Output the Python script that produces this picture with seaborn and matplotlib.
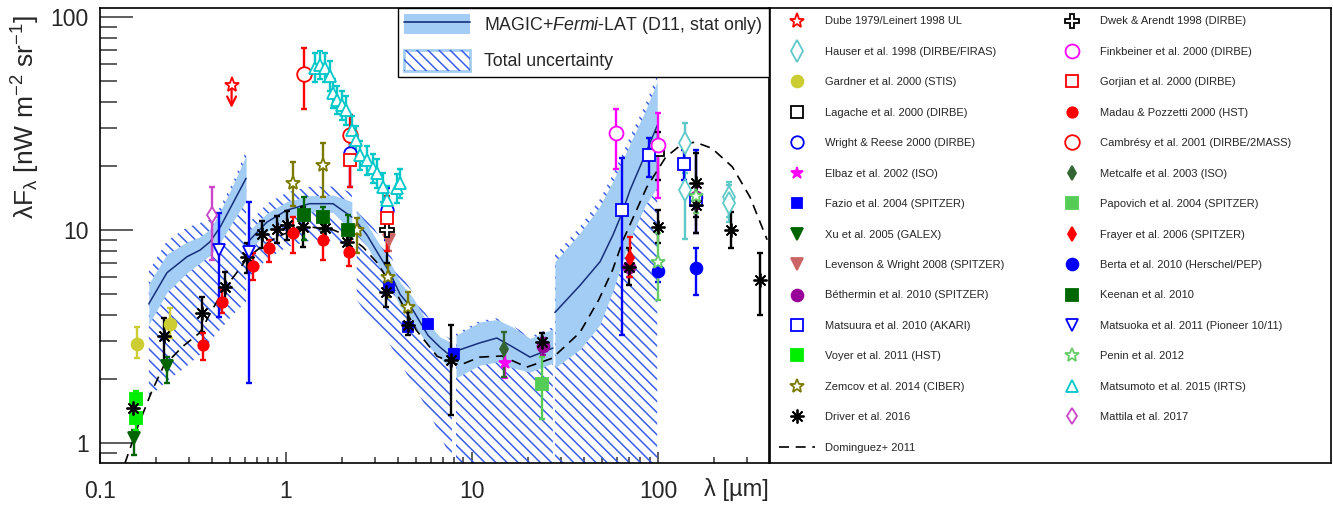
import numpy as np
import matplotlib
matplotlib.use("Agg")
import matplotlib.pyplot as plt
import seaborn as sns
from matplotlib.lines import Line2D
from matplotlib.patches import Patch
from matplotlib.ticker import LogLocator, NullFormatter

# ---------------- MAGIC+Fermi-LAT EBL (wavelength um, nW m^-2 sr^-1) ----------------
seg1_lam = [0.183, 0.229, 0.294, 0.345, 0.390, 0.442, 0.519, 0.610]
seg1_mid = [4.5, 6.3, 7.5, 8.05, 8.8, 10.3, 13.4, 17.5]
seg1_stat_lo = [3.6, 5.1, 6.3, 7.0, 7.6, 8.7, 11.0, 13.7]
seg1_stat_hi = [5.6, 7.7, 8.8, 9.3, 10.1, 12.2, 16.3, 22.4]
seg1_tot_lo = [1.64, 1.95, 2.3, 2.6, 3.0, 3.4, 4.0, 4.6]
seg1_tot_hi = [6.4, 8.9, 10.3, 10.8, 11.2, 12.8, 16.8, 23.5]

seg2_lam = [0.632, 0.79, 1.01, 1.34, 1.79, 2.26]
seg2_mid = [8.9, 10.9, 12.4, 13.3, 13.3, 11.5]
seg2_stat_lo = [8.0, 9.8, 11.3, 12.2, 12.1, 9.8]
seg2_stat_hi = [9.9, 12.0, 13.6, 14.5, 14.6, 13.6]
seg2_tot_lo = [6.0, 7.3, 8.3, 8.9, 8.9, 7.7]
seg2_tot_hi = [10.8, 13.3, 15.0, 16.0, 16.0, 15.0]

seg3_lam = [2.40, 2.72, 3.20, 3.62, 4.10, 4.82, 5.80, 6.72, 7.80]
seg3_mid = [10.9, 9.5, 7.5, 6.3, 5.0, 4.2, 3.2, 2.82, 2.53]
seg3_stat_lo = [9.6, 8.4, 6.6, 5.5, 4.4, 3.7, 2.85, 2.5, 2.2]
seg3_stat_hi = [12.3, 10.7, 8.5, 7.1, 5.7, 4.8, 3.65, 3.15, 2.95]
seg3_tot_lo = [4.7, 4.0, 3.4, 2.9, 2.4, 1.87, 1.43, 1.09, 0.83]
seg3_tot_hi = [13.0, 11.5, 9.2, 7.7, 6.2, 5.1, 3.9, 3.3, 3.05]

seg4_lam = [8.2, 11.0, 13.6, 16.6, 20.5, 27.2]
seg4_mid = [2.70, 2.95, 3.11, 2.82, 2.53, 2.79]
seg4_stat_lo = [2.02, 2.32, 2.40, 2.25, 2.15, 2.37]
seg4_stat_hi = [3.2, 3.7, 3.8, 3.5, 3.1, 3.43]
seg4_tot_lo = [0.3, 0.3, 0.3, 0.3, 0.3, 0.3]
seg4_tot_hi = [3.25, 3.75, 3.85, 3.55, 3.15, 3.5]

seg5_lam = [27.9, 38.1, 48.8, 57.3, 64.0, 70.7, 85.1, 99.0]
seg5_mid = [4.1, 5.5, 7.1, 9.5, 12.0, 15.4, 22.5, 31.0]
seg5_stat_lo = [2.25, 2.75, 3.6, 5.2, 7.0, 9.0, 13.0, 15.9]
seg5_stat_hi = [7.1, 9.7, 13.0, 17.0, 21.0, 25.5, 36.0, 50.0]
seg5_tot_lo = [0.3, 0.3, 0.3, 0.3, 0.3, 0.3, 0.3, 0.3]
seg5_tot_hi = [7.6, 10.4, 14.0, 18.3, 22.5, 27.5, 38.5, 53.5]

# ---------------- Dominguez+ 2011 model ----------------
dom_lam = [0.136, 0.16, 0.19, 0.22, 0.28, 0.345, 0.40, 0.46, 0.55, 0.62, 0.73, 0.9,
           1.1, 1.4, 1.8, 2.2, 2.6, 3.1, 3.9, 5.0, 6.5, 8.6, 11.0, 14.5, 19.7, 27.0,
           38.0, 48.0, 57.0, 65.0, 87.0, 110.0, 132.0, 158.0, 195.0, 251.0, 312.0, 386.0]
dom_f = [0.8, 1.2, 1.75, 2.3, 2.85, 3.3, 4.2, 5.2, 6.4, 7.4, 8.3, 9.3,
         10.0, 10.3, 10.0, 9.3, 8.3, 7.0, 5.1, 3.4, 2.55, 2.32, 2.53, 2.56, 2.27, 2.5,
         3.3, 4.7, 6.5, 9.0, 15.9, 22.0, 25.0, 25.9, 24.2, 19.8, 14.3, 9.0]

# ---------------- measurements ----------------
dube_lam = [0.51]
dube_f = [48.0]
dube_lim = [37.5]

hauser_lam = [140, 140, 240, 240]
hauser_f = [25.6, 15.4, 14.3, 13.4]
hauser_lo = [18.5, 9.1, 11.5, 10.9]
hauser_hi = [31.8, 21.0, 16.8, 16.2]

gardner_lam = [0.158, 0.238]
gardner_f = [2.92, 3.62]
gardner_lo = [2.5, 3.1]
gardner_hi = [3.5, 4.3]

lagache_lam = [100]
lagache_f = [23.7]
lagache_lo = [17.2]
lagache_hi = [28.8]

wright_lam = [2.2, 3.5]
wright_f = [23.0, 12.4]
wright_lo = [15.9, 9.0]
wright_hi = [29.5, 15.7]

elbaz_lam = [15.0]
elbaz_f = [2.37]
elbaz_lo = [2.02]
elbaz_hi = [2.7]

fazio_lam = [3.6, 4.5, 5.8, 8.0]
fazio_f = [5.4, 3.5, 3.62, 2.62]
fazio_lo = [5.2, 3.35, 3.5, 2.5]
fazio_hi = [5.6, 3.65, 3.75, 2.75]

xu_lam = [0.152, 0.229]
xu_f = [1.05, 2.30]
xu_lo = [0.88, 1.91]
xu_hi = [1.15, 2.53]

levenson_lam = [3.6]
levenson_f = [9.0]
levenson_lo = [8.0]
levenson_hi = [10.0]

bethermin_lam = [24, 70, 160]
bethermin_f = [2.85, 6.7, 14.3]
bethermin_lo = [2.6, 6.0, 12.5]
bethermin_hi = [3.1, 7.5, 16.0]

matsuura_lam = [64, 89, 138, 160]
matsuura_f = [12.4, 22.5, 20.4, 13.8]
matsuura_lo = [3.2, 17.7, 17.2, 9.7]
matsuura_hi = [21.8, 27.0, 23.7, 23.7]

voyer_lam = [0.156, 0.156]
voyer_f = [1.61, 1.31]
voyer_lo = [1.45, 1.15]
voyer_hi = [1.75, 1.45]

zemcov_lam = [1.09, 1.58, 2.40, 3.55, 4.50]
zemcov_f = [16.6, 20.2, 10.0, 6.0, 4.35]
zemcov_lo = [13.0, 14.3, 7.8, 4.85, 3.5]
zemcov_hi = [20.9, 25.6, 11.4, 6.85, 5.12]

driver_lam = [0.150, 0.221, 0.354, 0.470, 0.617, 0.743, 0.895, 1.01, 1.23, 1.62, 2.13,
              3.45, 4.50, 7.7, 23.8, 70, 100, 160, 160, 247, 353]
driver_f = [1.46, 3.18, 4.08, 5.40, 7.45, 9.6, 10.1, 10.6, 10.3, 10.2, 8.8,
            5.1, 3.6, 2.45, 2.98, 6.7, 10.3, 16.6, 13.1, 10.0, 5.82]
driver_lo = [1.38, 2.4, 3.32, 4.69, 6.3, 8.2, 8.7, 9.0, 8.3, 8.8, 7.6,
             4.35, 3.2, 1.35, 2.7, 5.52, 8.7, 9.7, 11.5, 8.2, 4.0]
driver_hi = [1.55, 3.86, 4.85, 6.35, 8.7, 11.0, 11.6, 12.3, 12.8, 11.8, 10.0,
             6.0, 4.1, 3.58, 3.3, 8.23, 12.4, 23.0, 14.5, 12.2, 7.8]

dwek_lam = [3.5]
dwek_f = [10.0]
dwek_lo = [7.0]
dwek_hi = [13.1]

finkbeiner_lam = [59.4, 100]
finkbeiner_f = [28.5, 25.0]
finkbeiner_lo = [19.3, 14.1]
finkbeiner_hi = [37.0, 35.4]

gorjian_lam = [2.2, 3.5]
gorjian_f = [21.3, 11.4]
gorjian_lo = [15.9, 8.0]
gorjian_hi = [27.5, 14.5]

madau_lam = [0.358, 0.453, 0.665, 0.811, 1.09, 1.58, 2.18]
madau_f = [2.88, 4.6, 6.8, 8.2, 9.7, 9.0, 7.9]
madau_lo = [2.45, 4.08, 5.82, 7.08, 7.8, 7.23, 6.8]
madau_hi = [3.28, 5.23, 7.8, 8.97, 11.5, 10.9, 8.97]

cambresy_lam = [1.25, 2.2]
cambresy_f = [54.0, 28.0]
cambresy_lo = [37.0, 21.0]
cambresy_hi = [71.5, 34.7]

metcalfe_lam = [14.9]
metcalfe_f = [2.76]
metcalfe_lo = [2.04]
metcalfe_hi = [3.32]

papovich_lam = [23.8]
papovich_f = [1.89]
papovich_lo = [1.30]
papovich_hi = [2.53]

frayer_lam = [71]
frayer_f = [7.4]
frayer_lo = [6.0]
frayer_hi = [9.3]

berta_lam = [100, 160]
berta_f = [6.42, 6.6]
berta_lo = [5.7, 4.95]
berta_hi = [7.2, 8.23]

keenan_lam = [1.25, 1.58, 2.15]
keenan_f = [11.8, 11.5, 10.0]
keenan_lo = [9.0, 9.8, 8.5]
keenan_hi = [14.3, 12.8, 11.8]

matsuoka_lam = [0.436, 0.632]
matsuoka_f = [8.05, 7.9]
matsuoka_lo = [3.9, 1.91]
matsuoka_hi = [12.0, 13.6]

penin_lam = [100, 160]
penin_f = [7.1, 14.5]
penin_lo = [4.69, 12.0]
penin_hi = [9.68, 17.0]

matsumoto_lam = [1.43, 1.52, 1.62, 1.72, 1.79, 1.88, 2.00, 2.10, 2.26, 2.38, 2.50,
                 2.72, 2.94, 3.08, 3.32, 3.49, 3.95, 4.10]
matsumoto_f = [58, 59.5, 58, 53, 44, 40.8, 38.6, 36.6, 29.5, 26.4, 22.5,
               21.3, 19.5, 18.5, 15.9, 13.8, 15.7, 16.6]
matsumoto_lo = [49.5, 51, 49.5, 45, 37.5, 35, 33, 31, 25, 22.5, 19.2,
                18.2, 16.7, 15.8, 13.6, 11.8, 13.4, 14.2]
matsumoto_hi = [68, 69.5, 68, 62, 51.5, 47.7, 45, 42.8, 34.5, 30.9, 26.3,
                24.9, 22.8, 21.6, 18.6, 16.1, 18.4, 19.4]

mattila_lam = [0.40]
mattila_f = [11.8]
mattila_lo = [7.2]
mattila_hi = [15.9]

# ---------------- style ----------------
sns.set_theme(style="ticks")
plt.rcParams['font.family'] = ['Liberation Sans', 'DejaVu Sans']
plt.rcParams['mathtext.fontset'] = 'custom'
plt.rcParams['mathtext.rm'] = 'Liberation Sans'
plt.rcParams['mathtext.it'] = 'Liberation Sans:italic'
plt.rcParams['mathtext.bf'] = 'Liberation Sans:bold'
plt.rcParams['hatch.linewidth'] = 1.1

BAND = '#a3cdf5'
HATCH = '#3a5ee8'
NAVY = '#15307a'
plt.rcParams['hatch.color'] = HATCH

fig = plt.figure(figsize=(13.33, 5.05), dpi=100)
ax = fig.add_axes([0.0750, 0.0832, 0.5019, 0.9019])
ax.set_xscale('log')
ax.set_yscale('log')

segments = [
    (seg1_lam, seg1_mid, seg1_stat_lo, seg1_stat_hi, seg1_tot_lo, seg1_tot_hi),
    (seg2_lam, seg2_mid, seg2_stat_lo, seg2_stat_hi, seg2_tot_lo, seg2_tot_hi),
    (seg3_lam, seg3_mid, seg3_stat_lo, seg3_stat_hi, seg3_tot_lo, seg3_tot_hi),
    (seg4_lam, seg4_mid, seg4_stat_lo, seg4_stat_hi, seg4_tot_lo, seg4_tot_hi),
    (seg5_lam, seg5_mid, seg5_stat_lo, seg5_stat_hi, seg5_tot_lo, seg5_tot_hi),
]
for lam, mid, slo, shi, tlo, thi in segments:
    ax.fill_between(lam, tlo, thi, facecolor='none', edgecolor=HATCH,
                    hatch='\\\\\\', linewidth=0, zorder=1)
    ax.fill_between(lam, slo, shi, color=BAND, linewidth=0, zorder=2)
    sns.lineplot(x=lam, y=mid, ax=ax, color=NAVY, lw=1.1, sort=False,
                 estimator=None, legend=False, zorder=3)

sns.lineplot(x=dom_lam, y=dom_f, ax=ax, color='black', lw=1.2, sort=False,
             estimator=None, legend=False, zorder=4, linestyle=(0, (6, 4)))

ASTER = (8, 2, 0)
# label, lam, f, lo, hi, marker, color, hollow, size
col1 = [
    ("Hauser et al. 1998 (DIRBE/FIRAS)", hauser_lam, hauser_f, hauser_lo, hauser_hi, 'd', '#5fc9c9', True, 11),
    ("Gardner et al. 2000 (STIS)", gardner_lam, gardner_f, gardner_lo, gardner_hi, 'o', '#cccc33', False, 8.5),
    ("Lagache et al. 2000 (DIRBE)", lagache_lam, lagache_f, lagache_lo, lagache_hi, 's', 'black', True, 9),
    ("Wright & Reese 2000 (DIRBE)", wright_lam, wright_f, wright_lo, wright_hi, 'o', '#0000ff', True, 9),
    ("Elbaz et al. 2002 (ISO)", elbaz_lam, elbaz_f, elbaz_lo, elbaz_hi, '*', '#ff00ff', False, 9),
    ("Fazio et al. 2004 (SPITZER)", fazio_lam, fazio_f, fazio_lo, fazio_hi, 's', '#0000ff', False, 6.5),
    ("Xu et al. 2005 (GALEX)", xu_lam, xu_f, xu_lo, xu_hi, 'v', '#006400', False, 8),
    ("Levenson & Wright 2008 (SPITZER)", levenson_lam, levenson_f, levenson_lo, levenson_hi, 'v', '#cc6666', False, 8),
    ("Béthermin et al. 2010 (SPITZER)", bethermin_lam, bethermin_f, bethermin_lo, bethermin_hi, 'o', '#990099', False, 8.5),
    ("Matsuura et al. 2010 (AKARI)", matsuura_lam, matsuura_f, matsuura_lo, matsuura_hi, 's', '#0000ff', True, 9),
    ("Voyer et al. 2011 (HST)", voyer_lam, voyer_f, voyer_lo, voyer_hi, 's', '#00ee00', False, 8),
    ("Zemcov et al. 2014 (CIBER)", zemcov_lam, zemcov_f, zemcov_lo, zemcov_hi, '*', '#7a7a00', True, 10),
    ("Driver et al. 2016", driver_lam, driver_f, driver_lo, driver_hi, ASTER, 'black', False, 10),
]
col2 = [
    ("Dwek & Arendt 1998 (DIRBE)", dwek_lam, dwek_f, dwek_lo, dwek_hi, 'P', 'black', True, 10),
    ("Finkbeiner et al. 2000 (DIRBE)", finkbeiner_lam, finkbeiner_f, finkbeiner_lo, finkbeiner_hi, 'o', '#ff00ff', True, 10),
    ("Gorjian et al. 2000 (DIRBE)", gorjian_lam, gorjian_f, gorjian_lo, gorjian_hi, 's', '#ff0000', True, 9),
    ("Madau & Pozzetti 2000 (HST)", madau_lam, madau_f, madau_lo, madau_hi, 'o', '#ff0000', False, 7.5),
    ("Cambrésy et al. 2001 (DIRBE/2MASS)", cambresy_lam, cambresy_f, cambresy_lo, cambresy_hi, 'o', '#ff0000', True, 10.5),
    ("Metcalfe et al. 2003 (ISO)", metcalfe_lam, metcalfe_f, metcalfe_lo, metcalfe_hi, 'd', '#336633', False, 7),
    ("Papovich et al. 2004 (SPITZER)", papovich_lam, papovich_f, papovich_lo, papovich_hi, 's', '#55cc55', False, 8.5),
    ("Frayer et al. 2006 (SPITZER)", frayer_lam, frayer_f, frayer_lo, frayer_hi, 'd', '#ff0000', False, 7),
    ("Berta et al. 2010 (Herschel/PEP)", berta_lam, berta_f, berta_lo, berta_hi, 'o', '#0000ff', False, 8.5),
    ("Keenan et al. 2010", keenan_lam, keenan_f, keenan_lo, keenan_hi, 's', '#006600', False, 8.5),
    ("Matsuoka et al. 2011 (Pioneer 10/11)", matsuoka_lam, matsuoka_f, matsuoka_lo, matsuoka_hi, 'v', '#0000ff', True, 9),
    ("Penin et al. 2012", penin_lam, penin_f, penin_lo, penin_hi, '*', '#66cc66', True, 10),
    ("Matsumoto et al. 2015 (IRTS)", matsumoto_lam, matsumoto_f, matsumoto_lo, matsumoto_hi, '^', '#00c8c8', True, 9),
    ("Mattila et al. 2017", mattila_lam, mattila_f, mattila_lo, mattila_hi, 'd', '#cc44cc', True, 8),
]


def handle(marker, color, hollow, ms):
    return Line2D([], [], ls='none', marker=marker, color=color, ms=ms,
                  mfc='white' if hollow else color, mec=color, mew=1.3)


for label, lam, f, lo, hi, marker, color, hollow, ms in col1 + col2:
    f = np.asarray(f, float)
    err = [f - np.asarray(lo, float), np.asarray(hi, float) - f]
    ax.errorbar(lam, f, yerr=err, fmt='none', ecolor=color, elinewidth=1.7,
                capsize=2.0, capthick=1.7, zorder=5)
    ax.plot(lam, f, ls='none', marker=marker, color=color, ms=ms,
            mfc='white' if hollow else color, mec=color, mew=1.3, zorder=6)

# upper limit (Dube / Leinert)
for lam, f, lim in zip(dube_lam, dube_f, dube_lim):
    ax.annotate('', xy=(lam, lim), xytext=(lam, f),
                arrowprops=dict(arrowstyle='->', color='red', lw=1.6,
                                mutation_scale=16, shrinkA=0, shrinkB=0), zorder=5)
ax.plot(dube_lam, dube_f, ls='none', marker='*', ms=11, mfc='white',
        mec='red', mew=1.3, zorder=6)

# ---------------- axes ----------------
ax.set_xlim(0.1, 395)
ax.set_ylim(0.805, 111)
ax.set_xticks([0.1, 1, 10, 100], labels=['0.1', '1', '10', '100'])
ax.set_yticks([1, 10, 100], labels=['1', '10', '100'])
for axis in (ax.xaxis, ax.yaxis):
    axis.set_minor_locator(LogLocator(base=10, subs=np.arange(2, 10), numticks=30))
    axis.set_minor_formatter(NullFormatter())
ax.tick_params(which='both', direction='in', top=False, right=False,
               labelsize=16.5, width=1.1, color='#333333')
ax.tick_params(axis='y', which='major', length=24, pad=8)
ax.tick_params(axis='y', which='minor', length=12)
ax.tick_params(axis='x', which='major', length=8, pad=12)
ax.tick_params(axis='x', which='minor', length=4)
for sp in ax.spines.values():
    sp.set_color('black')
    sp.set_linewidth(1.2)

ax.set_ylabel('λF$_\\mathregular{λ}$ [nW m$^\\mathregular{-2}$ sr$^\\mathregular{-1}$]',
              fontsize=19, loc='top')
ax.yaxis.set_label_coords(-0.086, 0.984)
ax.set_xlabel('λ [µm]', fontsize=17, loc='right')
ax.xaxis.set_label_coords(1.0, -0.033)

# MAGIC legend inside the plot
mh = [(Patch(facecolor=BAND, edgecolor='none'), Line2D([], [], color=NAVY, lw=1.2)),
      (Patch(facecolor='white', edgecolor=BAND, lw=2),
       Patch(facecolor='none', edgecolor=HATCH, hatch='\\\\\\', lw=0))]
mleg = ax.legend(mh, ['MAGIC+$\\mathit{Fermi}$-LAT (D11, stat only)', 'Total uncertainty'],
                 loc='upper right', bbox_to_anchor=(1.0, 1.0), borderaxespad=0,
                 fontsize=12.8, handlelength=3.7, handleheight=1.4, handletextpad=0.8,
                 labelspacing=0.8, borderpad=0.35, fancybox=False, framealpha=1)
mleg.get_frame().set_edgecolor('black')
mleg.get_frame().set_linewidth(1.0)
mleg.set_zorder(10)

# ---------------- right legend panel ----------------
lax = fig.add_axes([0.5777, 0.0832, 0.4208, 0.9019])
lax.set_xticks([])
lax.set_yticks([])
for sp in lax.spines.values():
    sp.set_color('black')
    sp.set_linewidth(1.2)

h1 = [handle('*', '#ff0000', True, 11)] + [handle(m, c, h, s) for _, _, _, _, _, m, c, h, s in col1]
l1 = ["Dube 1979/Leinert 1998 UL"] + [c[0] for c in col1]
h1.append(Line2D([], [], color='black', lw=1.2, linestyle=(0, (6, 4))))
l1.append("Dominguez+ 2011")
h2 = [handle(m, c, h, s) for _, _, _, _, _, m, c, h, s in col2]
l2 = [c[0] for c in col2]

kw = dict(loc='upper left', frameon=False, fontsize=8, handlelength=3.2,
          handletextpad=0.95, labelspacing=1.84, borderpad=0.6, borderaxespad=0)
leg1 = lax.legend(h1, l1, bbox_to_anchor=(0.004, 0.995), **kw)
lax.add_artist(leg1)
lax.legend(h2, l2, bbox_to_anchor=(0.494, 0.995), **kw)

fig.savefig('out.png', dpi=100)
